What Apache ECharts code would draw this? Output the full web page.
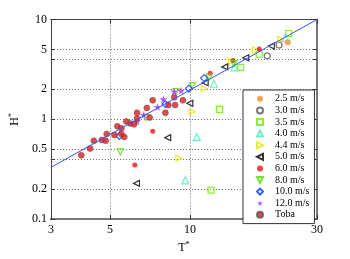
<!DOCTYPE html>
<html>
<head>
<meta charset="utf-8">
<script src="https://cdn.jsdelivr.net/npm/echarts@6/dist/echarts.min.js"></script>
<style>html,body{margin:0;padding:0;background:#fff;}#c{width:350px;height:259px;}</style>
</head>
<body>
<div id="c"></div>
<script>
// Data: [T*, H*]
var s25 = [[23.3, 5.92]];
var s30 = [[19.5, 4.33], [21.6, 5.54]];
var s35 = [[12.0, 0.195], [12.9, 1.26], [15.5, 3.32], [18.2, 4.48], [23.5, 7.24]];
var s40 = [[9.59, 0.244], [10.6, 0.666], [12.3, 2.27], [14.7, 3.32], [22.8, 6.55]];
var s44 = [[9.09, 0.41], [10.2, 1.19], [11.3, 2.03], [14.3, 3.79], [17.6, 4.95], [21.9, 6.32]];
var s50 = [[6.29, 0.228], [8.24, 0.655], [9.98, 1.45], [11.4, 2.32], [13.5, 3.35], [16.2, 4.14], [20.2, 5.42]];
var s60 = [[6.20, 0.349], [7.24, 0.761], [11.9, 2.90], [14.5, 3.88], [18.2, 5.07]];
var s80 = [[5.47, 0.471], [6.82, 1.04], [8.86, 1.90], [10.2, 2.17], [11.8, 2.65], [14.6, 3.62]];
var s100 = [[5.43, 0.681], [8.08, 1.42], [9.90, 2.03], [11.3, 2.59]];
var s120 = [[6.32, 0.951], [6.70, 1.11], [7.55, 1.33], [7.94, 1.59], [8.72, 1.90], [9.25, 1.94]];
var toba = [[3.90, 0.436], [4.21, 0.509], [4.35, 0.609], [4.66, 0.622], [4.82, 0.609], [4.86, 0.712],
  [5.20, 0.696], [5.33, 0.851], [5.52, 0.814], [5.52, 0.712], [5.66, 0.666], [5.76, 0.951],
  [5.96, 0.910], [6.16, 0.890], [6.32, 1.16], [6.32, 1.02], [6.88, 1.30], [7.05, 1.04],
  [7.24, 1.55], [8.08, 1.16], [8.29, 1.39], [8.79, 1.39], [8.72, 1.66], [9.40, 1.55]];
var fitLine = [[3, 0.33], [30, 10]];

var xTicks = [3, 5, 10, 30];
var yLabels = [0.1, 0.2, 0.5, 1, 2, 5, 10];
var yTicks = [0.1, 0.2, 0.4, 0.5, 1, 2, 4, 5, 10];

var serif = 'Liberation Serif';
var P = {
  right: 'path://M0,0 L10,5 L0,10 Z',
  left: 'path://M10,0 L0,5 L10,10 Z',
  down: 'path://M0,0 L10,0 L5,10 Z',
  star: 'path://M50,0 L61,35 L98,35 L68,57 L79,91 L50,70 L21,91 L32,57 L2,35 L39,35 Z'
};
function openS(name, data, symbol, color, size) {
  return { name: name, type: 'scatter', data: data, symbol: symbol, symbolSize: size || 6,
    itemStyle: { color: 'rgba(255,255,255,0)', borderColor: color, borderWidth: 1.2 }, z: 3 };
}
function fillS(name, data, symbol, color, size, border) {
  return { name: name, type: 'scatter', data: data, symbol: symbol, symbolSize: size,
    itemStyle: { color: color, borderColor: border || color, borderWidth: border ? 0.6 : 0 }, z: 3 };
}
var fmt = function (v) { return String(+(+v).toPrecision(3)); };
var gridStyle = { show: true, lineStyle: { color: '#666', type: [1, 2], width: 1 } };
var nameRich = { s: { fontSize: 8, verticalAlign: 'top', fontFamily: serif, padding: [0, 0, 6, 0] } };

var chart = echarts.init(document.getElementById('c'));
chart.setOption({
  animation: false,
  backgroundColor: '#fff',
  grid: { left: 45, right: 33, top: 19.5, bottom: 33 },
  xAxis: [{
    type: 'log', logBase: 10, min: 3, max: 30,
    name: 'T{s|*}', nameLocation: 'middle', nameGap: 21,
    nameTextStyle: { fontFamily: serif, fontSize: 12, color: '#000', rich: nameRich },
    axisLine: { show: true, lineStyle: { color: '#777', width: 2 } },
    axisTick: { show: true, inside: true, length: 4, customValues: xTicks, lineStyle: { color: '#333' } },
    axisLabel: { customValues: xTicks, formatter: fmt, fontFamily: serif, fontSize: 12, color: '#000', margin: 5 },
    splitLine: gridStyle,
    minorTick: { show: false }, minorSplitLine: { show: false }
  }, {
    type: 'log', logBase: 10, min: 3, max: 30, position: 'top',
    axisLine: { show: true, lineStyle: { color: '#444', width: 1 } },
    axisTick: { show: true, inside: true, length: 4, customValues: xTicks, lineStyle: { color: '#333' } },
    axisLabel: { show: false },
    splitLine: { show: false }
  }],
  yAxis: [{
    type: 'log', logBase: 10, min: 0.1, max: 10,
    name: 'H{s|*}', nameLocation: 'middle', nameGap: 25, nameRotate: 90,
    nameTextStyle: { fontFamily: serif, fontSize: 12, color: '#000', rich: nameRich },
    axisLine: { show: true, lineStyle: { color: '#444', width: 1 } },
    axisTick: { show: true, inside: true, length: 4, customValues: yTicks, lineStyle: { color: '#333' } },
    axisLabel: { customValues: yLabels, formatter: fmt, fontFamily: serif, fontSize: 12, color: '#000', margin: 4 },
    splitLine: gridStyle,
    minorTick: { show: false }, minorSplitLine: { show: false }
  }, {
    type: 'log', logBase: 10, min: 0.1, max: 10, position: 'right',
    axisLine: { show: true, lineStyle: { color: '#777', width: 2 } },
    axisTick: { show: true, inside: true, length: 4, customValues: yTicks, lineStyle: { color: '#333' } },
    axisLabel: { show: false },
    splitLine: { show: false }
  }],
  legend: {
    orient: 'vertical', left: 243, top: 90,
    padding: [3, 5, 3, 13], itemGap: 0, itemWidth: 6, itemHeight: 6,
    backgroundColor: '#fff', borderColor: '#333', borderWidth: 1,
    textStyle: { fontFamily: serif, fontSize: 10, lineHeight: 11.6, color: '#000', padding: [0, 0, 0, 7] },
    data: ['2.5 m/s', '3.0 m/s', '3.5 m/s', '4.0 m/s', '4.4 m/s', '5.0 m/s', '6.0 m/s', '8.0 m/s', '10.0 m/s', '12.0 m/s', 'Toba']
  },
  series: [
    { name: 'fit', type: 'line', data: fitLine, symbol: 'none', lineStyle: { color: '#3355ff', width: 1 }, z: 4, silent: true },
    fillS('2.5 m/s', s25, 'circle', '#ff8c1a', 6),
    openS('3.0 m/s', s30, 'circle', '#555555', 6),
    openS('3.5 m/s', s35, 'rect', '#66ee00', 6),
    openS('4.0 m/s', s40, 'triangle', '#4fe8c0', 7),
    openS('4.4 m/s', s44, P.right, '#e6e600', 6),
    openS('5.0 m/s', s50, P.left, '#000000', 6),
    fillS('6.0 m/s', s60, 'circle', '#ff1010', 5),
    openS('8.0 m/s', s80, P.down, '#55dd00', 6),
    openS('10.0 m/s', s100, 'diamond', '#0033ff', 7),
    fillS('12.0 m/s', s120, P.star, '#aa33ff', 8),
    fillS('Toba', toba, 'circle', '#e41a1a', 6, '#555')
  ]
});
</script>
</body>
</html>
